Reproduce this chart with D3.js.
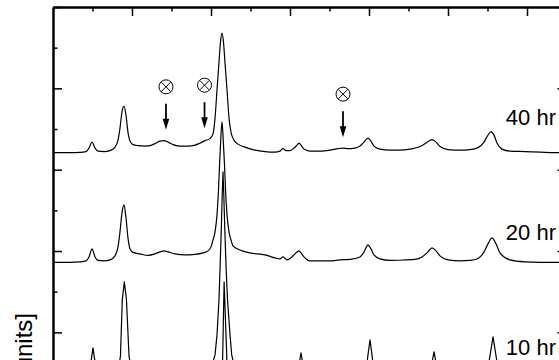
<!DOCTYPE html>
<html><head><meta charset="utf-8">
<script src="https://cdn.jsdelivr.net/npm/d3@7"></script>
<style>html,body{margin:0;padding:0;background:#fff;overflow:hidden}</style>
</head><body><svg id="chart" width="559" height="360"></svg>
<script>
// ---- data (2θ in degrees, intensity above each trace's own baseline, arb. units)
const seriesNames = ["40 hr", "20 hr", "10 hr", ""];
const seriesOffsets = [642, 372, 93, -163];
const labelLevels = [710, 427, 144];

const trace40 = [[10,0],[10.89,0],[12.15,0],[13.42,0.5],[14.18,2.5],[14.56,11],[14.94,26],[15.32,11],[15.7,3.7],[16.46,2.5],[17.22,4.9],[17.85,13.5],[18.23,30.7],[18.48,60.2],[18.73,99.6],[18.99,114.3],[19.24,92.2],[19.49,50.4],[19.75,28.3],[20.13,19.7],[20.76,17.2],[21.65,16],[22.28,17.2],[22.91,22.1],[23.54,28.3],[24.05,29.5],[24.56,25.8],[25.19,19.7],[26.08,16],[27.09,16],[27.97,18.4],[28.61,23.4],[29.24,29.5],[29.87,34.4],[30.25,45.5],[30.51,84.8],[30.76,153.7],[31.01,221.3],[31.2,271.7],[31.39,293.9],[31.58,271.7],[31.77,221.3],[32.03,153.7],[32.28,84.8],[32.53,50.4],[32.91,30.7],[33.42,20.9],[34.3,13.5],[35.57,6.1],[36.84,2.5],[38.1,1.2],[38.73,3.7],[39.11,9.8],[39.49,4.9],[40.0,4.9],[40.51,11.1],[40.89,18.4],[41.14,23.4],[41.39,18.4],[41.77,8.6],[42.53,3.7],[43.8,3.7],[45.06,6.1],[46.08,9.8],[46.71,11.1],[47.34,9.8],[48.23,11.1],[48.86,16],[49.37,25.8],[49.87,35.7],[50.25,28.3],[50.63,16],[51.39,8.6],[52.66,6.1],[53.92,6.1],[55.19,8.6],[56.46,14.8],[57.22,23.4],[57.97,32],[58.48,25.8],[58.99,14.8],[60.0,7.4],[61.52,6.1],[62.78,7.4],[63.8,12.3],[64.56,25.8],[65.06,43],[65.44,51.6],[65.82,43],[66.2,23.4],[66.84,8.6],[67.85,3.7],[69.75,2.5],[71.65,1.2],[73.54,0],[75,0]];

const trace20 = [[10,0],[12.15,0],[13.42,1.2],[14.18,3.7],[14.56,13.5],[14.94,33.2],[15.32,13.5],[15.7,4.9],[16.46,3.7],[17.22,6.1],[17.85,16],[18.23,38.1],[18.48,75],[18.73,121.7],[18.99,141.4],[19.24,109.4],[19.49,60.2],[19.75,33.2],[20.13,24.6],[21.01,20.9],[22.03,17.2],[22.91,20.9],[23.54,25.8],[24.05,28.3],[24.56,25.8],[25.44,20.9],[26.71,18.4],[27.97,19.7],[28.99,23.4],[29.62,28.3],[30.0,38.1],[30.25,55.3],[30.51,75],[30.76,116.8],[30.95,178.3],[31.08,239.8],[31.2,289],[31.39,345.6],[31.58,289],[31.71,239.8],[31.84,178.3],[32.03,116.8],[32.28,75],[32.53,55.3],[32.78,40.6],[33.67,30.7],[34.94,23.4],[36.84,18.4],[38.1,11.1],[38.73,8.6],[39.11,13.5],[39.62,6.1],[40.51,18.4],[40.89,25.8],[41.14,28.3],[41.39,23.4],[41.77,13.5],[42.53,3.7],[43.8,3.7],[45.06,3.7],[46.33,6.1],[47.59,7.4],[48.86,13.5],[49.37,25.8],[49.87,43],[50.25,33.2],[50.63,18.4],[51.39,8.6],[52.66,4.9],[54.56,6.1],[55.82,7.4],[56.71,13.5],[57.47,25.8],[57.97,35.7],[58.48,28.3],[58.99,16],[60.0,6.1],[61.52,3.7],[62.78,4.9],[63.8,9.8],[64.56,25.8],[65.06,45.5],[65.57,60.2],[66.08,45.5],[66.58,23.4],[67.85,6.1],[69.75,1.2],[71.65,0],[75,0]];

const trace10 = [[10,0],[13.42,0],[14.43,2.5],[14.81,34.4],[15.06,68.9],[15.32,34.4],[15.7,2.5],[17.22,2.5],[18.23,9.8],[18.54,49.2],[18.77,186.9],[19.03,231.1],[19.3,186.9],[19.62,49.2],[19.87,19.7],[20.38,4.9],[23.54,4.9],[28.61,4.9],[29.87,9.8],[30.25,34.4],[30.51,51.6],[30.76,100.8],[31.01,186.9],[31.14,260.7],[31.3,359.1],[31.42,445.1],[31.52,501.7],[31.62,445.1],[31.75,359.1],[31.92,260.7],[32.09,186.9],[32.41,100.8],[32.62,51.6],[32.91,27],[33.67,14.8],[34.94,7.4],[40.0,2.5],[40.89,4.9],[41.14,27],[41.39,56.6],[41.65,27],[41.9,4.9],[48.86,2.5],[49.62,9.8],[49.87,51.6],[50.13,88.5],[50.38,51.6],[50.63,9.8],[57.47,2.5],[57.85,19.7],[58.23,59],[58.61,19.7],[58.99,2.5],[64.81,2.5],[65.19,34.4],[65.7,95.9],[66.2,34.4],[66.58,9.8],[75,0]];

const traceLow = [[10,0],[30.8,5],[31.2,60],[31.48,307],[31.66,487],[31.99,307],[32.3,60],[33,5],[75,0]];

const traces = [trace40, trace20, trace10, traceLow];

const xTicksMajor = [20, 30, 40, 50, 60, 70];
const xTicksMinor = [15, 25, 35, 45, 55, 65];
const yTicksMajor = [0, 200, 400, 600, 800, 1000];
const yTicksMinor = [100, 300, 500, 700, 900];
const markerTheta = [24.30, 29.18, 46.71];
const markerLevel = [698, 702, 680];
const yLabel = "Intensity [arb. units]";

// ---- drawing
const svg = d3.select("#chart");
const x = d3.scaleLinear().domain([10, 75]).range([53, 566.5]);
const y = d3.scaleLinear().domain([0, 1000]).range([413.7, 7]);
const font = "'Liberation Sans', Arial, sans-serif";

svg.append("defs").append("clipPath").attr("id", "plotclip")
  .append("rect").attr("x", x(10)).attr("y", y(1000))
  .attr("width", x(75) - x(10)).attr("height", y(0) - y(1000));

// traces
const g = svg.append("g").attr("clip-path", "url(#plotclip)");
traces.forEach((tr, i) => {
  const off = seriesOffsets[i];
  const line = d3.line()
    .x(d => x(d[0]))
    .y(d => y(d[1] + off))
    .curve(i < 2 ? d3.curveMonotoneX : d3.curveLinear);
  g.append("path").datum(tr)
    .attr("d", line)
    .attr("fill", "none")
    .attr("stroke", "#000")
    .attr("stroke-width", 1.2)
    .attr("stroke-linejoin", "round");
});

// axes (frame) with inward ticks
function styleAxis(sel) {
  sel.select(".domain").attr("stroke-width", 2).attr("stroke", "#000");
  sel.selectAll(".tick line").attr("stroke-width", 1.5).attr("stroke", "#000");
  sel.selectAll(".tick text").remove();
}
const axes = [
  {gen: d3.axisTop(x), tr: `translate(0,${y(1000)})`, maj: xTicksMajor, min: xTicksMinor},
  {gen: d3.axisBottom(x), tr: `translate(0,${y(0)})`, maj: xTicksMajor, min: xTicksMinor},
  {gen: d3.axisLeft(y), tr: `translate(${x(10)},0)`, maj: yTicksMajor, min: yTicksMinor},
  {gen: d3.axisRight(y), tr: `translate(${x(75)},0)`, maj: yTicksMajor, min: yTicksMinor}
];
axes.forEach(a => {
  svg.append("g").attr("transform", a.tr)
    .call(a.gen.tickValues(a.min).tickSizeInner(-4.5).tickSizeOuter(0).tickFormat(""))
    .call(styleAxis);
  svg.append("g").attr("transform", a.tr)
    .call(a.gen.tickValues(a.maj).tickSizeInner(-9).tickSizeOuter(0).tickFormat(""))
    .call(styleAxis);
});

// series labels
labelLevels.forEach((lv, i) => {
  svg.append("text")
    .attr("x", 556).attr("y", y(lv))
    .attr("text-anchor", "end")
    .attr("font-family", font).attr("font-size", 22)
    .attr("fill", "#000")
    .text(seriesNames[i]);
});

// markers: ⊗ with down arrow
markerTheta.forEach((t, i) => {
  const cx = x(t), tip = y(markerLevel[i]);
  const m = svg.append("g");
  m.append("line").attr("x1", cx).attr("x2", cx)
    .attr("y1", tip - 26).attr("y2", tip - 9)
    .attr("stroke", "#000").attr("stroke-width", 1.8);
  m.append("path")
    .attr("d", `M${cx - 3.3},${tip - 11}L${cx + 3.3},${tip - 11}L${cx},${tip}Z`)
    .attr("fill", "#000");
  const cy = tip - 43, r = 7, d = r * 0.66;
  m.append("circle").attr("cx", cx).attr("cy", cy).attr("r", r)
    .attr("fill", "none").attr("stroke", "#000").attr("stroke-width", 1);
  m.append("path")
    .attr("d", `M${cx - d},${cy - d}L${cx + d},${cy + d}M${cx + d},${cy - d}L${cx - d},${cy + d}`)
    .attr("stroke", "#000").attr("stroke-width", 1);
});

// y axis title
svg.append("text")
  .attr("transform", `translate(31.5,313) rotate(-90)`)
  .attr("text-anchor", "end")
  .attr("font-family", font).attr("font-size", 24)
  .attr("fill", "#000")
  .text(yLabel);
</script>
</body></html>
